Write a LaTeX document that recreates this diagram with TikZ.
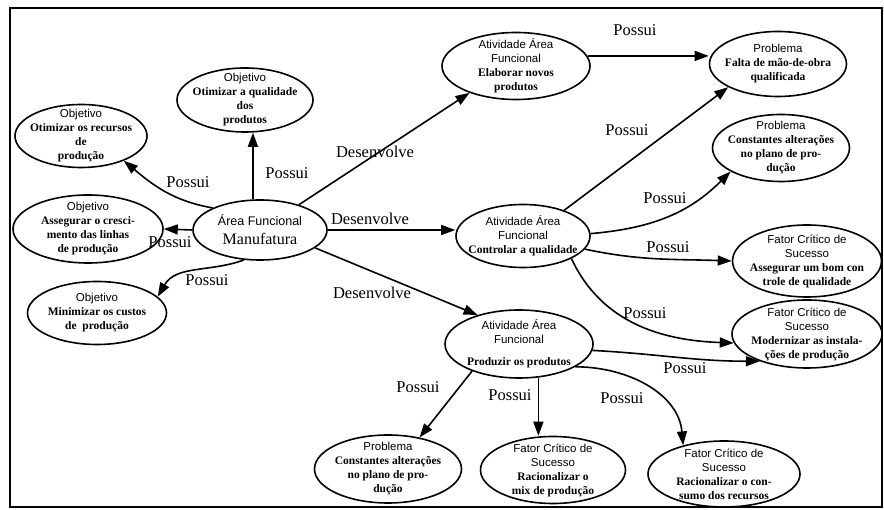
\documentclass[tikz,border=0pt]{standalone}
\usepackage{fontspec}
\setmainfont{Liberation Serif}
\setsansfont{Liberation Sans}
\usetikzlibrary{arrows.meta,shapes.geometric}
\newcommand\hdr[1]{{\sffamily\mdseries\fontsize{11.5}{14}\selectfont #1}}
\begin{document}
\begin{tikzpicture}[x=1pt,y=1pt,
  ell/.style={draw, ellipse, line width=1.6pt, inner sep=0pt},
  txt/.style={align=center, inner sep=0pt, font=\fontsize{11.5}{14}\selectfont\bfseries},
  lbl/.style={font=\fontsize{16.5}{18}\selectfont, inner sep=1pt},
  arr/.style={line width=1.6pt, -{Triangle[length=14pt,width=10pt]}},
]
\useasboundingbox (0,0) rectangle (884,510);
\draw[line width=2.5pt] (10,3) rectangle (882,502);

% nodes
\node[ell, minimum width=134pt, minimum height=60pt] (man) at (260,280) {};
\node[align=center, inner sep=0pt, font=\fontsize{16}{19}\selectfont] (mant) at (man) {{\sffamily\fontsize{12.5}{15}\selectfont Área Funcional}\\Manufatura};

\node[ell, minimum width=136pt, minimum height=64pt] (qual) at (245,410) {};
\node[txt] (qualt) at (qual) {\hdr{Objetivo}\\Otimizar a qualidade\\dos\\produtos};

\node[ell, minimum width=132pt, minimum height=63pt] (rec) at (81,374) {};
\node[txt] (rect) at (rec) {\hdr{Objetivo}\\Otimizar os recursos\\de\\produção};

\node[ell, minimum width=150pt, minimum height=68pt] (ass) at (88,281) {};
\node[txt] (asst) at (ass) {\hdr{Objetivo}\\Assegurar o cresci-\\mento das linhas\\de produção};

\node[ell, minimum width=139pt, minimum height=63pt] (mini) at (97,197) {};
\node[txt] (minit) at (mini) {\hdr{Objetivo}\\Minimizar os custos\\de\ \ produção};

\node[ell, minimum width=148pt, minimum height=67pt] (elab) at (516,444) {};
\node[txt] (elabt) at (elab) {\hdr{Atividade Área}\\\hdr{Funcional}\\Elaborar novos\\produtos};

\node[ell, minimum width=137pt, minimum height=65pt] (falta) at (778,446) {};
\node[txt] (faltat) at (falta) {\hdr{Problema}\\Falta de mão-de-obra\\qualificada};

\node[ell, minimum width=137pt, minimum height=67pt] (cr) at (781,362) {};
\node[txt] (crt) at (cr) {\hdr{Problema}\\Constantes alterações\\no plano de pro-\\dução};

\node[ell, minimum width=134pt, minimum height=63pt] (ctrl) at (523,274) {};
\node[txt] (ctrlt) at (ctrl) {\hdr{Atividade Área}\\\hdr{Funcional}\\Controlar a qualidade};

\node[ell, minimum width=149pt, minimum height=72pt] (asb) at (807,249) {};
\node[txt] (asbt) at (asb) {\hdr{Fator Crítico de}\\\hdr{Sucesso}\\Assegurar um bom con\\trole de qualidade};

\node[ell, minimum width=150pt, minimum height=68pt] (mod) at (807,176) {};
\node[txt] (modt) at (mod) {\hdr{Fator Crítico de}\\\hdr{Sucesso}\\Modernizar as instala-\\ções de produção};

\node[ell, minimum width=148pt, minimum height=68pt] (prod) at (519,166) {};
\node[txt] (prodt) at (prod) {\hdr{Atividade Área}\\\hdr{Funcional}\\[8pt]Produzir os produtos};

\node[ell, minimum width=147pt, minimum height=68pt] (cb) at (388,41) {};
\node[txt] (cbt) at (cb) {\hdr{Problema}\\Constantes alterações\\no plano de pro-\\dução};

\node[ell, minimum width=145pt, minimum height=67pt] (mix) at (553,40) {};
\node[txt] (mixt) at (mix) {\hdr{Fator Crítico de}\\\hdr{Sucesso}\\Racionalizar o\\mix de produção};

\node[ell, minimum width=152pt, minimum height=66pt] (cons) at (724,36) {};
\node[txt] (const) at (cons) {\hdr{Fator Crítico de}\\\hdr{Sucesso}\\Racionalizar o con-\\sumo dos recursos};

% connectors
\draw[arr] (man.103) -- (man.103 |- qual.south);
\draw[arr] (man.155) to[out=170,in=-40] (rec.-30);
\draw[arr] (man.west) -- (ass.east);
\draw[arr] (man.242) to[out=200,in=60] (mini.15);
\draw[arr] (man.33) -- (elab.210);
\draw[arr] (man.east) -- (man.east -| ctrl.west);
\draw[arr] (man.-18) -- (prod.145);
\draw[arr] (elab.8) -- (elab.8 -| falta.west);
\draw[arr] (ctrl.32) -- (falta.205);
\draw[arr] (ctrl.2) to[out=5,in=225] (cr.205);
\draw[arr] (ctrl.-12) to[out=-12,in=178] (asb.west);
\draw[arr] (ctrl.-25) to[out=-65,in=178] (mod.187);
\draw[arr] (prod.-5) to[out=-3,in=180] (mod.210);
\draw[arr] (prod.210) -- (cb.45);
\draw[arr] (prod.-60) -- (prod.-60 |- mix.north);
\draw[arr] (prod.-22) to[out=0,in=95] (cons.145);

% labels
\node[lbl] (l1) at (287,337) {Possui};
\node[lbl] (l2) at (188,328) {Possui};
\node[lbl] (l3) at (170,268) {Possui};
\node[lbl] (l4) at (207,230) {Possui};
\node[lbl] (l5) at (375,358) {Desenvolve};
\node[lbl] (l6) at (370,291) {Desenvolve};
\node[lbl] (l7) at (372,217) {Desenvolve};
\node[lbl] (l8) at (635,480) {Possui};
\node[lbl] (l9) at (627,380) {Possui};
\node[lbl] (l10) at (665,312) {Possui};
\node[lbl] (l11) at (668,263) {Possui};
\node[lbl] (l12) at (645,197) {Possui};
\node[lbl] (l13) at (685,142) {Possui};
\node[lbl] (l14) at (418,123) {Possui};
\node[lbl] (l15) at (510,115) {Possui};
\node[lbl] (l16) at (622,112) {Possui};
\end{tikzpicture}
\end{document}
